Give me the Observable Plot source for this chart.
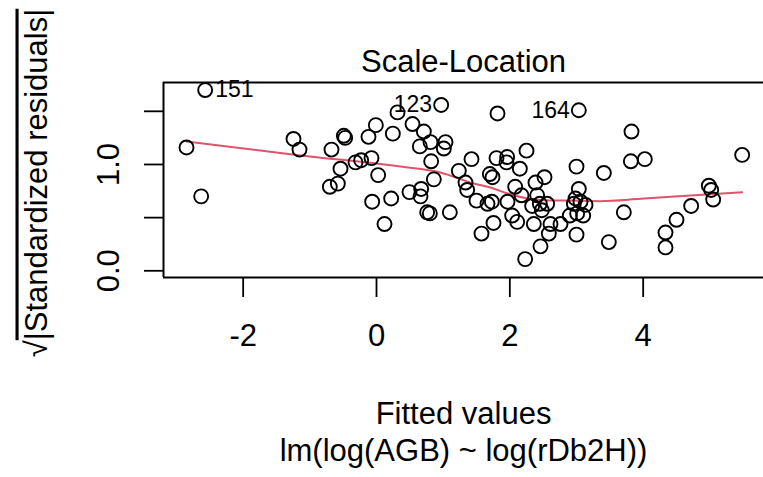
<!DOCTYPE html>
<html><head><meta charset="utf-8">
<script src="https://cdn.jsdelivr.net/npm/d3@7"></script>
<script src="https://cdn.jsdelivr.net/npm/@observablehq/plot@0.6"></script>
<style>body{margin:0;background:#fff}</style>
</head><body><div id="chart"></div>
<script>
// Fitted values (x) and sqrt(|standardized residuals|) (y)
const fitted = [-2.57, -2.85, -2.63, -1.245, -1.155, -0.675, -0.49, -0.47, -0.01, -0.12,
  0.245, 0.315, 0.54, -0.54, -0.315, -0.23, -0.075, 0.025, -0.70, -0.58,
  -0.065, 0.22, 0.12, 0.495, 0.97, 1.815, 0.71, 0.65, 0.81, 1.035,
  1.01, 0.82, 1.425, 1.80, 0.86, 0.67, 0.66, 1.235, 1.335, 1.36,
  1.50, 1.665, 1.70, 1.74, 1.73, 0.76, 0.80, 1.10, 1.755, 1.575,
  3.035, 2.25, 1.96, 1.95, 2.15, 2.08, 2.385, 2.52, 1.965, 2.175,
  2.335, 2.41, 2.45, 2.56, 2.48, 2.035, 2.11, 2.36, 2.61, 2.76,
  2.585, 2.46, 2.23, 2.90, 3.00, 3.825, 3.815, 4.025, 3.41, 3.035,
  2.985, 3.06, 3.135, 2.96, 3.01, 3.10, 3.71, 3.00, 3.485, 4.335,
  4.335, 5.485, 4.985, 5.02, 5.05, 4.72, 4.50];
const sqrtStdResid = [1.70, 1.16, 0.70, 1.24, 1.14, 1.14, 1.27, 1.25, 1.37, 1.26,
  1.29, 1.49, 1.38, 0.96, 1.02, 1.04, 1.06, 0.90, 0.79, 0.82,
  0.65, 0.68, 0.44, 0.74, 1.56, 1.48, 1.31, 1.17, 1.21, 1.21,
  1.15, 1.03, 1.05, 1.06, 0.86, 0.77, 0.70, 0.94, 0.83, 0.76,
  0.66, 0.63, 0.91, 0.88, 0.65, 0.55, 0.54, 0.55, 0.45, 0.35,
  1.51, 1.13, 1.07, 1.02, 0.96, 0.79, 0.83, 0.88, 0.65, 0.71,
  0.61, 0.71, 0.63, 0.63, 0.57, 0.52, 0.46, 0.44, 0.44, 0.44,
  0.35, 0.23, 0.11, 0.52, 0.98, 1.31, 1.03, 1.05, 0.92, 0.77,
  0.68, 0.65, 0.62, 0.63, 0.54, 0.52, 0.55, 0.34, 0.27, 0.36,
  0.22, 1.09, 0.80, 0.76, 0.67, 0.61, 0.48];

// Smoother (red line)
const lowessX = [-2.85, -1.14, 0.36, 0.96, 1.455, 1.71, 1.965, 2.265, 2.61, 2.91, 3.36, 3.96, 4.71, 5.485];
const lowessY = [1.216, 1.085, 0.981, 0.925, 0.821, 0.784, 0.727, 0.680, 0.661, 0.661, 0.655, 0.677, 0.708, 0.739];

// Labelled observations
const idLabels = ["151", "123", "164"];
const idX = [-2.57, 0.97, 3.035];
const idY = [1.70, 1.56, 1.51];
const idSide = ["right", "left", "left"];

// Axes
const xTicks = [-2, 0, 2, 4];
const yTicks = [0, 0.5, 1, 1.5];
const yTickLabelValues = [0, 1];
const yTickLabels = ["0.0", "1.0"];
const xDomain = [-3.195, 5.805];
const yDomain = [-0.063, 1.771];

const title = "Scale-Location";
const xLabel = "Fitted values";
const subLabel = "lm(log(AGB) ~ log(rDb2H))";
const yLabelRoot = "√";
const yLabelBody = "|Standardized residuals|";
const yLabel = yLabelRoot + yLabelBody;

const points = fitted.map((x, i) => ({x, y: sqrtStdResid[i]}));
const lowess = lowessX.map((x, i) => ({x, y: lowessY[i]}));
const ids = idLabels.map((t, i) => ({t, x: idX[i], y: idY[i], side: idSide[i]}));

const FS = 31;
const chart = Plot.plot({
  width: 763, height: 477,
  marginLeft: 163, marginRight: 0, marginTop: 82, marginBottom: 200,
  style: {fontFamily: "'Liberation Sans', Arial, Helvetica, sans-serif", color: "#000", background: "#fff"},
  x: {domain: xDomain},
  y: {domain: yDomain},
  marks: [
    Plot.axisX({ticks: xTicks, tickSize: 20, tickPadding: 26, fontSize: FS, strokeWidth: 1.8, label: null, tickFormat: d => String(d)}),
    Plot.axisY({ticks: yTicks, tickSize: 19, fontSize: FS, strokeWidth: 1.8, label: null, tickFormat: () => ""}),
    Plot.text(yTickLabelValues, {y: d => d, text: (d, i) => yTickLabels[i], frameAnchor: "left", rotate: -90, dx: -45, lineAnchor: "bottom", textAnchor: "middle", fontSize: FS}),
    Plot.ruleY(yDomain, {stroke: "#000", strokeWidth: 2}),
    Plot.ruleX([xDomain[0]], {stroke: "#000", strokeWidth: 2}),
    Plot.line(lowess, {x: "x", y: "y", stroke: "#DF536B", strokeWidth: 2, curve: "monotone-x"}),
    Plot.dot(points, {x: "x", y: "y", r: 7, stroke: "#000", strokeWidth: 1.9, fill: "none"}),
    Plot.text(ids.filter(d => d.side === "right"), {x: "x", y: "y", text: "t", textAnchor: "start", dx: 10, fontSize: 23, lineAnchor: "middle"}),
    Plot.text(ids.filter(d => d.side === "left"), {x: "x", y: "y", text: "t", textAnchor: "end", dx: -9, fontSize: 23, lineAnchor: "middle"}),
    Plot.text([title], {text: d => d, frameAnchor: "top", dy: -11, lineAnchor: "bottom", textAnchor: "middle", fontSize: FS}),
    Plot.text([xLabel], {text: d => d, frameAnchor: "bottom", dy: 146, lineAnchor: "bottom", textAnchor: "middle", fontSize: FS}),
    Plot.text([subLabel], {text: d => d, frameAnchor: "bottom", dy: 183, lineAnchor: "bottom", textAnchor: "middle", fontSize: FS}),
    Plot.text([yLabel], {text: d => d, frameAnchor: "left", dx: -117, dy: 3, rotate: -90, lineAnchor: "bottom", textAnchor: "middle", fontSize: FS})
  ]
});
document.getElementById("chart").appendChild(chart);

// sqrt overline on the y label
d3.select(chart).selectAll("text").filter(function () { return this.textContent === yLabel; }).each(function () {
  const s = d3.select(this);
  s.text("");
  s.append("tspan").text(yLabelRoot);
  s.append("tspan").style("text-decoration", "overline").text(yLabelBody);
});
</script>
</body></html>
